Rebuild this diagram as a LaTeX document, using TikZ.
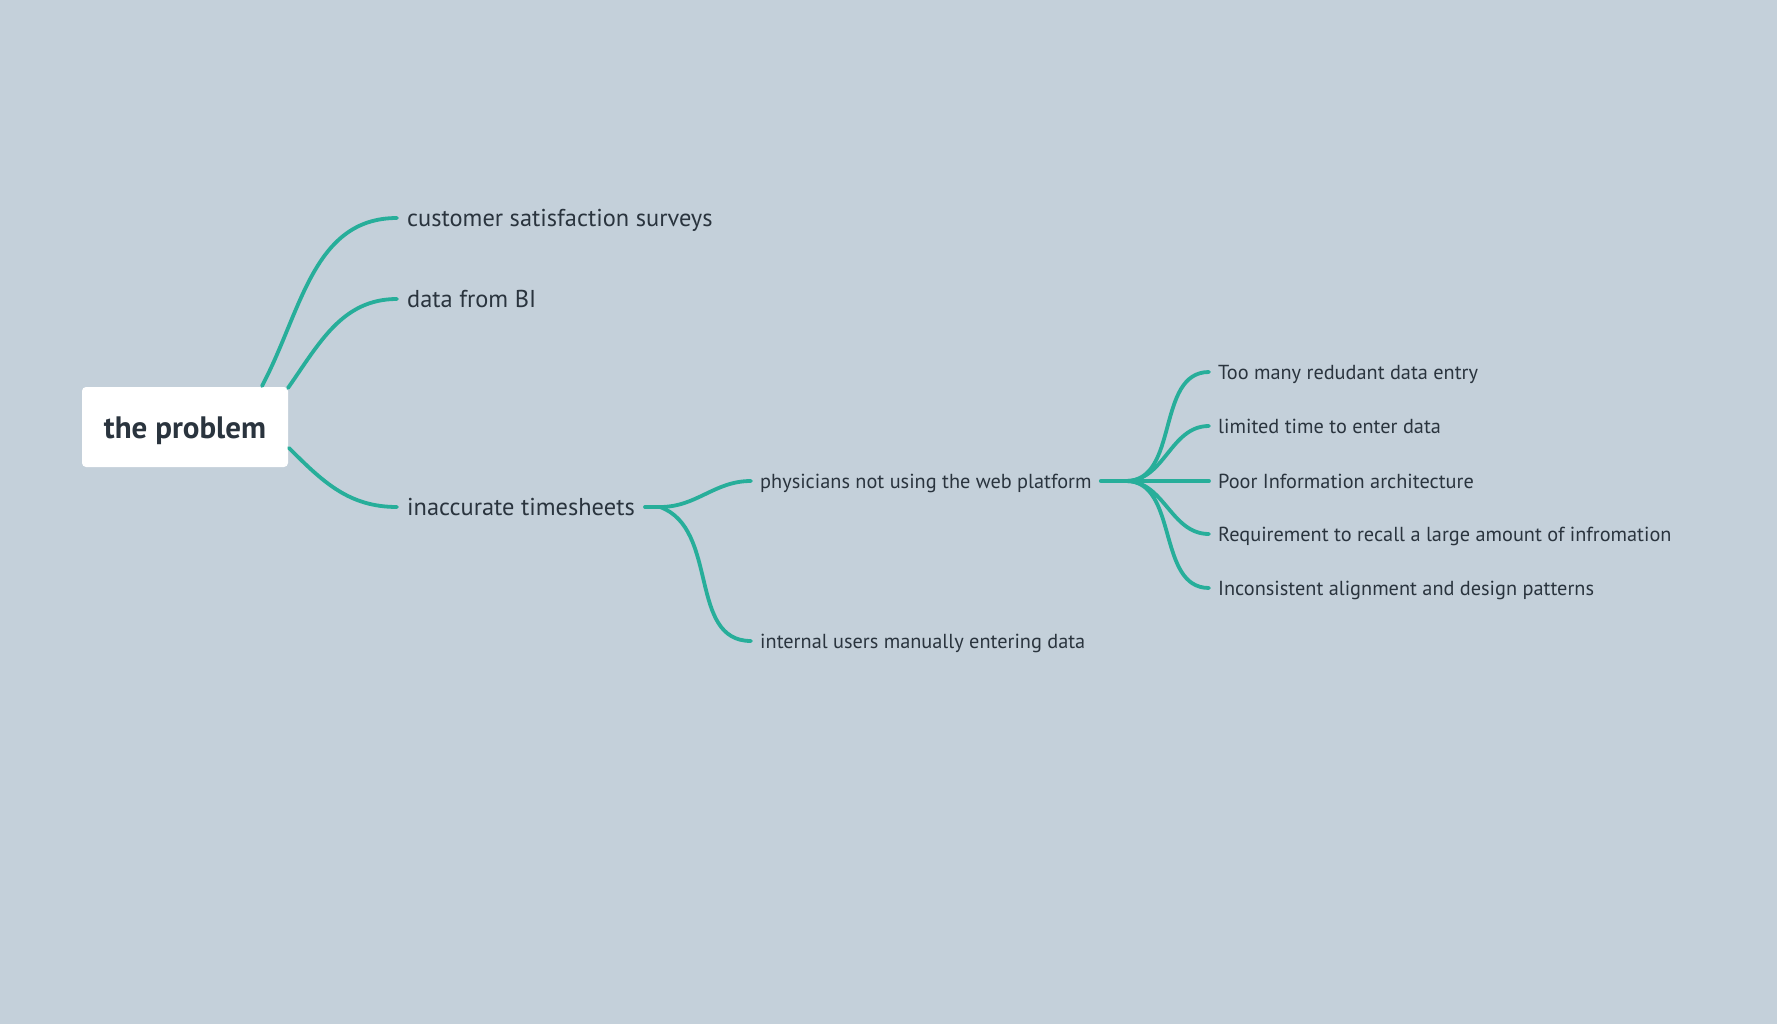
\documentclass[tikz,border=0pt]{standalone}
\usepackage{fontspec}
\setmainfont{PT Sans}
\definecolor{bgc}{HTML}{C4D0DA}
\definecolor{edgec}{HTML}{27AE9A}
\definecolor{txtc}{HTML}{2A343E}
\tikzset{
  rootbox/.style={fill=white, rounded corners=4pt, minimum width=206pt, minimum height=80pt, inner sep=0pt, text height=23pt, text depth=0pt, font=\fontsize{31}{34}\selectfont\bfseries, text=txtc},
  lvlone/.style={anchor=west, inner xsep=10pt, inner ysep=0pt, text height=17.2pt, text depth=0pt, font=\fontsize{24.4}{27}\selectfont, text=txtc},
  lvltwo/.style={anchor=west, inner xsep=9pt, inner ysep=0pt, text height=15.2pt, text depth=0pt, font=\fontsize{20.3}{23}\selectfont, text=txtc},
  conn/.style={draw=edgec, line width=3.8pt, line cap=round},
}
\begin{document}
\begin{tikzpicture}[x=1pt,y=-1pt]
\fill[bgc] (0,0) rectangle (1777,1024);
\useasboundingbox (0,0) rectangle (1777,1024);

\node[rootbox] (root) at (185,427) {the problem};

\node[lvlone] (c1) at (397,218) {customer satisfaction surveys};
\node[lvlone] (c2) at (397,299) {data from BI};
\node[lvlone] (c3) at (397,507) {inaccurate timesheets};

\node[lvltwo] (p1) at (751,481) {physicians not using the web platform};
\node[lvltwo] (p2) at (751,641) {internal users manually entering data};

\node[lvltwo] (q1) at (1209,372) {Too many redudant data entry};
\node[lvltwo] (q2) at (1209,426) {limited time to enter data};
\node[lvltwo] (q3) at (1209,481) {Poor Information architecture};
\node[lvltwo] (q4) at (1209,534) {Requirement to recall a large amount of infromation};
\node[lvltwo] (q5) at (1209,588) {Inconsistent alignment and design patterns};

\coordinate (r1) at (262,386);
\coordinate (r2) at (288,388);
\coordinate (r3) at (289,448);
\coordinate (j1) at (660,507);
\coordinate (j2) at (1126,481);

\draw[conn] (r1) to[out=62,in=180] (c1.west);
\draw[conn] (r2) to[out=55,in=180] (c2.west);
\draw[conn] (r3) to[out=-45,in=180] (c3.west);

\draw[conn] (c3.east) -- (j1);
\draw[conn] (j1) to[out=0,in=180] (p1.west);
\draw[conn] (j1) to[out=-20,in=180] (p2.west);

\draw[conn] (p1.east) -- (j2);
\draw[conn] (j2) to[out=0,in=180] (q1.west);
\draw[conn] (j2) to[out=0,in=180] (q2.west);
\draw[conn] (j2) -- (q3.west);
\draw[conn] (j2) to[out=0,in=180] (q4.west);
\draw[conn] (j2) to[out=0,in=180] (q5.west);
\end{tikzpicture}
\end{document}
